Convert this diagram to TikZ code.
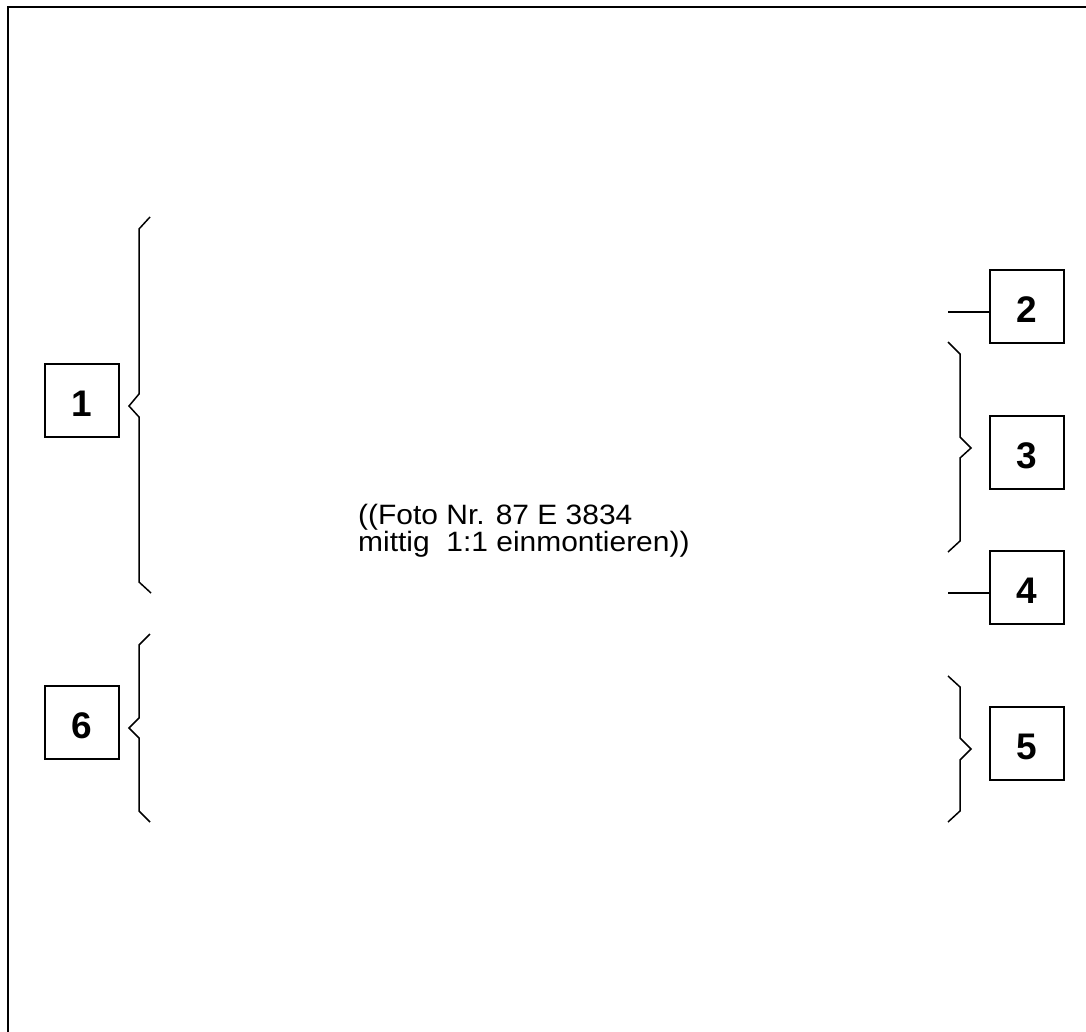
\documentclass[tikz,border=0pt]{standalone}
\usepackage{fontspec}
\setmainfont{Liberation Sans}
\newfontfamily\capfont[FakeStretch=1.07]{Liberation Sans}
\begin{document}
\begin{tikzpicture}[x=1pt,y=-1pt,
  frameline/.style={line width=2pt},
  bracketline/.style={line width=1.5pt, line join=miter},
  numbox/.style={draw, line width=1.5pt, minimum width=74pt, minimum height=73pt,
    inner sep=0pt, text height=31.5pt, text depth=0pt,
    font=\fontsize{37}{37}\selectfont\bfseries},
  caption/.style={anchor=base west, inner sep=0pt, font=\capfont\fontsize{28}{24}\selectfont}]
\useasboundingbox (0,0) rectangle (1086,1032);
% frame
\draw[frameline] (8,1032) -- (8,7) -- (1086,7);
% boxes
\node[numbox] (b1) at (82,400.5) {1};
\node[numbox] (b6) at (82,722.5) {6};
\node[numbox] (b2) at (1027,306.5) {2};
\node[numbox] (b3) at (1027,452.5) {3};
\node[numbox] (b4) at (1027,587.5) {4};
\node[numbox] (b5) at (1027,743.5) {5};
% bracket tips
\coordinate (t1) at (129,406);
\coordinate (t6) at (129,728);
\coordinate (t3) at (971,448);
\coordinate (t5) at (971,749);
\coordinate (l2) at (948,312);
\coordinate (l4) at (948,593);
% brackets
\draw[bracketline] (150,217) -- (139,229) -- (139,394) -- (t1) -- (139,417) -- (139,582) -- (151,593);
\draw[bracketline] (150,634) -- (139,645) -- (139,718) -- (t6) -- (139,738) -- (139,811) -- (150,822);
\draw[bracketline] (948,342) -- (960,354) -- (960,437) -- (t3) -- (960,458) -- (960,541) -- (948,552);
\draw[bracketline] (948,676) -- (960,687) -- (960,738) -- (t5) -- (960,760) -- (960,811) -- (948,822);
% straight leaders
\draw[bracketline] (l2) -- (l2 -| b2.west);
\draw[bracketline] (l4) -- (l4 -| b4.west);
% caption
\node[caption] (c1) at (358,524) {((Foto Nr. 87 E 3834};
\node[caption] (c2) at (358,551) {mittig~~1:1 einmontieren))};
\end{tikzpicture}
\end{document}
